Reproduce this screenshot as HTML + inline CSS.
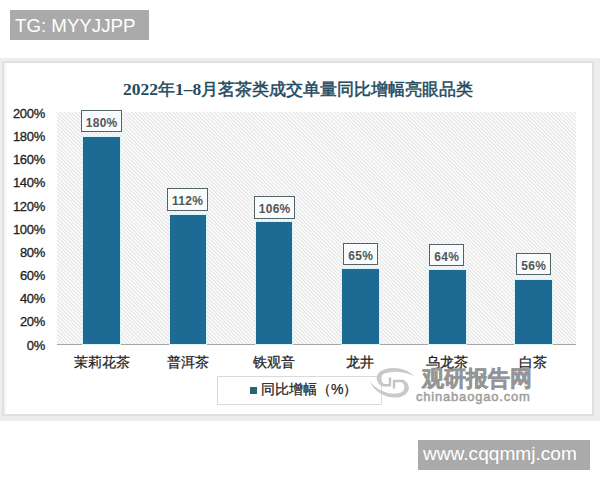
<!DOCTYPE html>
<html><head><meta charset="utf-8">
<style>
html,body{margin:0;padding:0;background:#fff;width:600px;height:480px;overflow:hidden;position:relative;font-family:"Liberation Sans",sans-serif;}
.a{position:absolute;}
.tag{background:#aaaaaa;color:#fff;white-space:nowrap;}
#frame{left:0;top:58px;width:600px;height:363px;background:#ededed;}
#fl1{left:2px;top:61px;width:592px;height:355px;border:2px solid #e0e0e0;box-sizing:border-box;}
#panel{left:4px;top:63px;width:588px;height:351px;background:#fff;box-shadow:inset 2px 0 0 #f4f4f4;}
#title{left:123px;top:79px;font-size:16.7px;font-weight:normal;-webkit-text-stroke:0.5px #1f4b60;color:#1f4b60;white-space:nowrap;line-height:20px;}
#title .d{font-family:"Liberation Serif",serif;font-size:17.5px;font-weight:bold;-webkit-text-stroke:0;}
#plot{left:57px;top:112px;width:519px;height:232px;
 background:repeating-linear-gradient(45deg,#fbfbfb 0px,#fbfbfb 1.2px,#dcdcdc 1.9px,#fbfbfb 2.65px);}
#axis{left:57px;top:344px;width:519px;height:1px;background:#a6a6a6;}
.yl{width:40px;left:5px;text-align:right;font-size:13px;color:#222;-webkit-text-stroke:0.3px #222;letter-spacing:-0.3px;line-height:14px;}
.bar{background:#1d6b95;box-shadow:0 0 0 1px #d9f3f8;}
.lb{border:1px solid #536366;background:#f9fcfc;color:#555;font-weight:bold;font-size:12px;letter-spacing:0.3px;text-indent:0.3px;text-align:center;box-sizing:border-box;line-height:22px;padding-top:1px;}
.xl{font-size:14px;color:#222;-webkit-text-stroke:0.25px #222;text-align:center;width:80px;line-height:16px;white-space:nowrap;}
</style></head><body>
<div class="a tag" style="left:10px;top:10px;width:139px;height:30px;font-size:18.7px;line-height:32px;"><span style="padding-left:5px">TG: MYYJJPP</span></div>

<div class="a" id="frame"></div>
<div class="a" id="fl1"></div>
<div class="a" id="panel"></div>
<div class="a" id="title"><span class="d">2022</span>年<span class="d">1–8</span>月茗茶类成交单量同比增幅亮眼品类</div>

<div class="a" id="plot"></div>
<div class="a" id="axis"></div>

<div class="a yl" style="top:107.00px">200%</div>
<div class="a yl" style="top:130.15px">180%</div>
<div class="a yl" style="top:153.30px">160%</div>
<div class="a yl" style="top:176.45px">140%</div>
<div class="a yl" style="top:199.60px">120%</div>
<div class="a yl" style="top:222.75px">100%</div>
<div class="a yl" style="top:245.90px">80%</div>
<div class="a yl" style="top:269.05px">60%</div>
<div class="a yl" style="top:292.20px">40%</div>
<div class="a yl" style="top:315.35px">20%</div>
<div class="a yl" style="top:338.50px">0%</div>

<div class="a bar" style="left:83px;top:137px;width:37px;height:207px"></div>
<div class="a bar" style="left:170px;top:215px;width:36px;height:129px"></div>
<div class="a bar" style="left:256px;top:222px;width:36px;height:122px"></div>
<div class="a bar" style="left:342px;top:269px;width:37px;height:75px"></div>
<div class="a bar" style="left:429px;top:270px;width:37px;height:74px"></div>
<div class="a bar" style="left:515px;top:280px;width:37px;height:64px"></div>

<div class="a lb" style="left:81px;top:110px;width:41px;height:22px">180%</div>
<div class="a lb" style="left:167px;top:188px;width:41px;height:23px">112%</div>
<div class="a lb" style="left:254px;top:196px;width:41px;height:23px">106%</div>
<div class="a lb" style="left:343px;top:243px;width:35px;height:22px">65%</div>
<div class="a lb" style="left:429px;top:244px;width:35px;height:22px">64%</div>
<div class="a lb" style="left:516px;top:253px;width:35px;height:22px">56%</div>

<div class="a xl" style="left:62px;top:354px">茉莉花茶</div>
<div class="a xl" style="left:148px;top:354px">普洱茶</div>
<div class="a xl" style="left:234px;top:354px">铁观音</div>
<div class="a xl" style="left:320px;top:354px">龙井</div>
<div class="a xl" style="left:407px;top:354px">乌龙茶</div>
<div class="a xl" style="left:493px;top:354px">白茶</div>

<div class="a" style="left:217px;top:376px;width:163px;height:27px;border:1px solid #dadada;"></div>
<div class="a" style="left:250px;top:387px;width:7px;height:7px;background:#2a6474;"></div>
<div class="a" style="left:261px;top:381px;font-size:14px;color:#222;-webkit-text-stroke:0.25px #222;line-height:16px;white-space:nowrap">同比增幅（%）</div>

<svg class="a" style="left:368px;top:364px" width="50" height="38" viewBox="0 0 50 38">
 <g fill="#c9c9c9">
  <path d="M46 12 C38 3 20 1.5 11.5 8 C7 12 8 19 14 22.5 L16 20 C12 17 11.8 13 14.8 10.5 C22 6 37 7 46 12 Z"/>
  <path d="M2 17 C6 31 28 38.5 38 30 C42.5 26 42 19 35 15.5 L34 18.5 C37 21 37.5 25 34 28 C26 32.5 9 28 2 17 Z"/>
 </g>
 <g fill="none" stroke="#c4c4c4" stroke-width="2.4" stroke-linejoin="round">
  <path d="M14.5 21.2 L22 21.2 L22 13.5"/>
  <path d="M35 17 L26 17 L26 24.5"/>
 </g>
</svg>
<div class="a" style="left:422px;top:367px;font-size:22px;font-weight:900;color:#959595;-webkit-text-stroke:0.6px #959595;line-height:24px;white-space:nowrap">观研报告网</div>
<div class="a" style="left:416px;top:390px;font-size:13px;color:#9e9e9e;-webkit-text-stroke:0.5px #9e9e9e;line-height:14px;white-space:nowrap;letter-spacing:0.8px">chinabaogao.com</div>

<div class="a tag" style="left:418px;top:440px;width:172px;height:30px;font-size:19.1px;line-height:27px;"><span style="padding-left:5px">www.cqqmmj.com</span></div>
</body></html>
